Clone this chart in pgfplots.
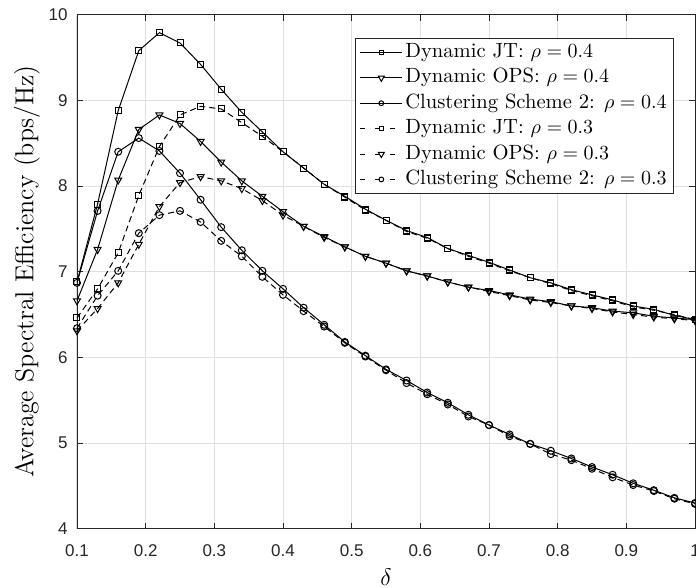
\documentclass[border=0pt]{standalone}
\usepackage{fontspec}
\usepackage{pgfplots}
\pgfplotsset{compat=1.18}
\newfontfamily\arialfont{Liberation Sans}
\definecolor{gridc}{RGB}{223,223,223}
\definecolor{axc}{RGB}{38,38,38}
\pgfplotsset{
  solidleg/.style={legend image code/.code={%
    \draw[##1] (0pt,0pt) -- (21pt,0pt);
    \draw[##1, mark size=#1] plot coordinates {(10.5pt,0pt)};}},
  dashleg/.style={legend image code/.code={%
    \draw[##1, dash pattern=on 2.5pt off 5pt] (0pt,0pt) -- (18pt,0pt);
    \draw[##1, mark size=#1] plot coordinates {(10.5pt,0pt)};}},
  trileg/.style={legend image code/.code={%
    \draw[##1] (0pt,0pt) -- (21pt,0pt);
    \draw[##1, mark size=#1, mark=triangle*, mark options={solid, rotate=180, fill=white}] plot coordinates {(10.5pt,0pt)};}},
}
\begin{document}
\begin{tikzpicture}
\begin{axis}[
  scale only axis, width=309pt, height=257pt,
  xmin=0.1, xmax=1, ymin=4, ymax=10,
  xtick={0.1,0.2,0.3,0.4,0.5,0.6,0.7,0.8,0.9,1},
  ytick={4,5,6,7,8,9,10},
  grid=major, major grid style={color=gridc, line width=0.5pt},
  tick align=inside, major tick length=3pt,
  tick style={color=axc, line width=0.4pt},
  axis line style={color=axc, line width=0.4pt},
  /pgf/number format/assume math mode=true,
  ticklabel style={font=\arialfont\fontsize{8.5}{10}\selectfont, color=axc},
  every x tick label/.append style={inner sep=0pt, yshift=-8pt},
  every y tick label/.append style={inner sep=0pt, xshift=-4.5pt},
  every axis y label/.style={at={(rel axis cs:0,0.5)}, xshift=-25pt, rotate=90, anchor=center, font=\fontsize{13}{15}\selectfont},
  every axis x label/.style={at={(rel axis cs:0.5,0)}, yshift=-24pt, anchor=center, font=\fontsize{13}{15}\selectfont},
  ylabel={Average Spectral Efficiency (bps/Hz)},
  xlabel={$\delta$},
  legend cell align=left,
  legend style={at={(0.966,0.954)}, anchor=north east, draw=axc, line width=0.4pt,
    font=\fontsize{10.3}{12}\selectfont, inner xsep=2.25pt, inner ysep=0.5pt,
    nodes={inner xsep=1.25pt, inner ysep=1.35pt, text height=0.75em, text depth=0.25em}},
  every axis plot/.append style={line width=0.5pt, black},
]
\addplot[mark=square, mark size=1.5pt, mark options={solid}, solidleg=1pt] coordinates {
(0.10,6.88)(0.13,7.79)(0.16,8.88)(0.19,9.58)(0.22,9.79)(0.25,9.67)(0.28,9.42)(0.31,9.13)(0.34,8.86)(0.37,8.63)(0.40,8.40)(0.43,8.21)(0.46,8.02)(0.49,7.88)(0.52,7.73)(0.55,7.60)(0.58,7.48)(0.61,7.40)(0.64,7.27)(0.67,7.19)(0.70,7.11)(0.73,7.02)(0.76,6.93)(0.79,6.87)(0.82,6.79)(0.85,6.73)(0.88,6.67)(0.91,6.60)(0.94,6.56)(0.97,6.49)(1.00,6.44)};
\addlegendentry{Dynamic JT: $\rho = 0.4$}
\addplot[mark=triangle, mark size=2pt, mark options={solid, rotate=180}, trileg=1.75pt] coordinates {
(0.10,6.66)(0.13,7.26)(0.16,8.07)(0.19,8.66)(0.22,8.83)(0.25,8.73)(0.28,8.52)(0.31,8.28)(0.34,8.06)(0.37,7.88)(0.40,7.70)(0.43,7.53)(0.46,7.41)(0.49,7.29)(0.52,7.18)(0.55,7.10)(0.58,7.01)(0.61,6.95)(0.64,6.88)(0.67,6.82)(0.70,6.78)(0.73,6.73)(0.76,6.68)(0.79,6.65)(0.82,6.60)(0.85,6.58)(0.88,6.54)(0.91,6.52)(0.94,6.48)(0.97,6.46)(1.00,6.44)};
\addlegendentry{Dynamic OPS: $\rho = 0.4$}
\addplot[mark=o, mark size=1.75pt, mark options={solid}, solidleg=1.2pt] coordinates {
(0.10,6.87)(0.13,7.71)(0.16,8.40)(0.19,8.56)(0.22,8.41)(0.25,8.15)(0.28,7.84)(0.31,7.52)(0.34,7.25)(0.37,7.01)(0.40,6.80)(0.43,6.58)(0.46,6.38)(0.49,6.18)(0.52,6.02)(0.55,5.86)(0.58,5.73)(0.61,5.59)(0.64,5.47)(0.67,5.33)(0.70,5.21)(0.73,5.10)(0.76,4.99)(0.79,4.91)(0.82,4.82)(0.85,4.72)(0.88,4.63)(0.91,4.53)(0.94,4.45)(0.97,4.36)(1.00,4.30)};
\addlegendentry{Clustering Scheme 2: $\rho = 0.4$}
\addplot[dash pattern=on 3pt off 2pt, mark=square, mark size=1.5pt, mark options={solid}, dashleg=1pt] coordinates {
(0.10,6.46)(0.13,6.80)(0.16,7.22)(0.19,7.89)(0.22,8.46)(0.25,8.83)(0.28,8.93)(0.31,8.90)(0.34,8.74)(0.37,8.58)(0.40,8.40)(0.43,8.21)(0.46,8.02)(0.49,7.87)(0.52,7.72)(0.55,7.60)(0.58,7.47)(0.61,7.39)(0.64,7.27)(0.67,7.18)(0.70,7.10)(0.73,7.01)(0.76,6.93)(0.79,6.86)(0.82,6.78)(0.85,6.72)(0.88,6.66)(0.91,6.59)(0.94,6.55)(0.97,6.50)(1.00,6.44)};
\addlegendentry{Dynamic JT: $\rho = 0.3$}
\addplot[dash pattern=on 3pt off 2pt, mark=triangle, mark size=2pt, mark options={solid, rotate=180}, dashleg=1.75pt] coordinates {
(0.10,6.31)(0.13,6.57)(0.16,6.87)(0.19,7.32)(0.22,7.76)(0.25,8.04)(0.28,8.11)(0.31,8.06)(0.34,7.97)(0.37,7.83)(0.40,7.66)(0.43,7.53)(0.46,7.40)(0.49,7.29)(0.52,7.18)(0.55,7.10)(0.58,7.01)(0.61,6.95)(0.64,6.88)(0.67,6.82)(0.70,6.77)(0.73,6.72)(0.76,6.67)(0.79,6.64)(0.82,6.60)(0.85,6.57)(0.88,6.53)(0.91,6.50)(0.94,6.47)(0.97,6.45)(1.00,6.43)};
\addlegendentry{Dynamic OPS: $\rho = 0.3$}
\addplot[dash pattern=on 3pt off 2pt, mark=o, mark size=1.75pt, mark options={solid}, dashleg=1.2pt] coordinates {
(0.10,6.34)(0.13,6.72)(0.16,7.01)(0.19,7.45)(0.22,7.66)(0.25,7.71)(0.28,7.58)(0.31,7.36)(0.34,7.18)(0.37,6.94)(0.40,6.73)(0.43,6.54)(0.46,6.36)(0.49,6.17)(0.52,6.01)(0.55,5.85)(0.58,5.70)(0.61,5.57)(0.64,5.45)(0.67,5.31)(0.70,5.21)(0.73,5.08)(0.76,4.99)(0.79,4.87)(0.82,4.80)(0.85,4.70)(0.88,4.60)(0.91,4.51)(0.94,4.44)(0.97,4.35)(1.00,4.29)};
\addlegendentry{Clustering Scheme 2: $\rho = 0.3$}
\end{axis}
\pgfresetboundingbox
\path ([shift={(-38.5pt,-29.5pt)}]current axis.south west) rectangle ([shift={(0.5pt,7.35pt)}]current axis.north east);
\end{tikzpicture}
\end{document}
